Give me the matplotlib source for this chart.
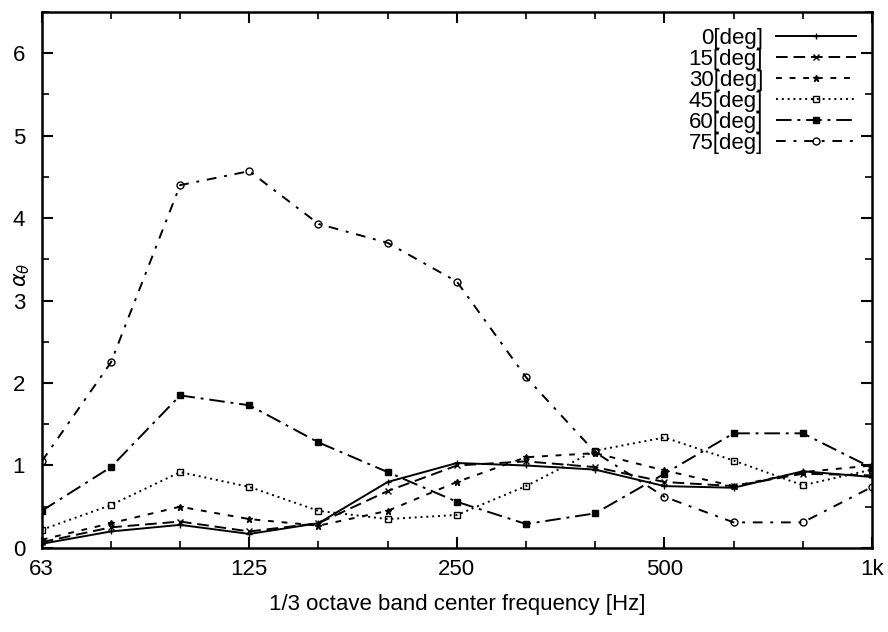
import matplotlib
matplotlib.use('Agg')
import matplotlib.pyplot as plt
from matplotlib.ticker import MultipleLocator, FixedLocator

plt.rcParams['font.family'] = ['Liberation Sans', 'DejaVu Sans']

bands = ['63', '80', '100', '125', '160', '200', '250', '315', '400', '500', '630', '800', '1k']
tick_labels = ['63', '125', '250', '500', '1k']

deg0 = [0.05, 0.20, 0.28, 0.17, 0.30, 0.80, 1.03, 1.00, 0.95, 0.75, 0.73, 0.93, 0.86]
deg15 = [0.07, 0.25, 0.32, 0.20, 0.30, 0.69, 1.00, 1.05, 0.98, 0.80, 0.75, 0.90, 0.88]
deg30 = [0.10, 0.30, 0.50, 0.35, 0.27, 0.45, 0.80, 1.10, 1.15, 0.94, 0.75, 0.92, 1.00]
deg45 = [0.22, 0.52, 0.92, 0.74, 0.45, 0.35, 0.40, 0.75, 1.18, 1.34, 1.06, 0.76, 0.95]
deg60 = [0.45, 0.98, 1.85, 1.73, 1.28, 0.92, 0.56, 0.29, 0.42, 0.90, 1.39, 1.39, 0.97]
deg75 = [1.05, 2.25, 4.40, 4.57, 3.93, 3.70, 3.23, 2.07, 1.16, 0.62, 0.31, 0.31, 0.74]

x = list(range(len(bands)))

fig = plt.figure(figsize=(8.88, 6.32), dpi=100)
ax = fig.add_axes([0.047, 0.133, 0.935, 0.848])

kw = dict(color='black', lw=1.4, ms=5)
ax.plot(x, deg0, marker='+', ls='-', label='0[deg]', **kw)
ax.plot(x, deg15, marker='x', ls=(0, (6, 3)), label='15[deg]', **kw)
ax.plot(x, deg30, marker='*', ls=(0, (3, 4)), label='30[deg]', **kw)
ax.plot(x, deg45, marker='s', mfc='none', ls=(0, (1, 2)), label='45[deg]', **kw)
ax.plot(x, deg60, marker='s', ls=(0, (8, 3, 1.5, 3)), label='60[deg]', **kw)
ax.plot(x, deg75, marker='o', mfc='none', ls=(0, (5, 4, 1.5, 4)), label='75[deg]', **kw)

ax.set_xlim(0, 12)
ax.set_ylim(0, 6.5)
ax.xaxis.set_major_locator(FixedLocator([0, 3, 6, 9, 12]))
ax.set_xticklabels(tick_labels)
ax.xaxis.set_minor_locator(MultipleLocator(1))
ax.yaxis.set_major_locator(MultipleLocator(1))
ax.yaxis.set_minor_locator(MultipleLocator(0.5))
ax.tick_params(which='both', direction='in', top=True, right=True, labelsize=16)
ax.tick_params(axis='x', which='major', pad=8)
ax.tick_params(axis='y', which='major', pad=12)
ax.tick_params(which='major', length=8, width=1.5)
ax.tick_params(which='minor', length=5, width=1.2)
for s in ax.spines.values():
    s.set_linewidth(1.8)

ax.set_xlabel('1/3 octave band center frequency [Hz]', fontsize=16, labelpad=10)
ax.set_ylabel(r'$\alpha_\theta$', fontsize=15)
ax.yaxis.set_label_coords(-0.012, 0.51)

ax.legend(loc='upper right', frameon=False, markerfirst=False, fontsize=16,
          handlelength=3.6, labelspacing=0.0, borderaxespad=0.3, handletextpad=0.6)

fig.savefig('out.png', dpi=100)
